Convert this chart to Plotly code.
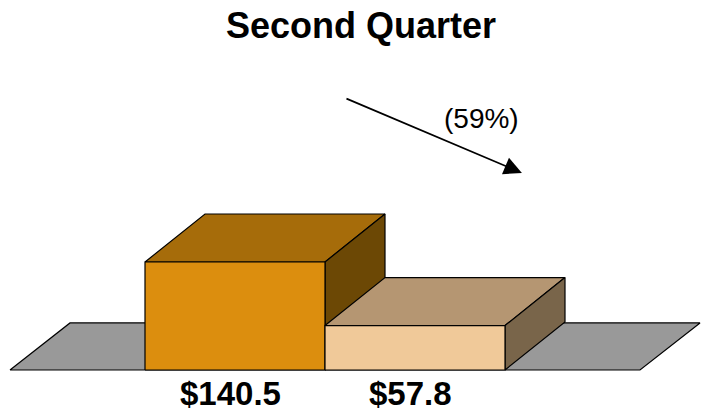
import plotly.graph_objects as go

# Quarterly values (in $ millions)
categories = ["Prior Year", "Current Year"]
values = [140.5, 57.8]
front_colors = ["#DC8E0E", "#F0C999"]
top_colors = ["#A66C0A", "#B59672"]
side_colors = ["#6C4805", "#79654A"]
floor_color = "#999999"

W, H = 702, 413
# pixel scale of the axes
PX_PER_X = 180.0
PX_PER_Y = 108.0 / values[0]
X0_PX, Y0_PX = 145.0, 370.0  # pixel position of x=-0.5, y=0
x_min = -0.5 - X0_PX / PX_PER_X
x_max = x_min + W / PX_PER_X
y_min = -(H - Y0_PX) / PX_PER_Y
y_max = Y0_PX / PX_PER_Y

# oblique depth of the 3D look
DX = 60.0 / PX_PER_X
DY = 48.0 / PX_PER_Y
BAR_W = 1.0

fig = go.Figure()


def face(xs, ys, color):
    fig.add_trace(go.Scatter(
        x=list(xs) + [xs[0]], y=list(ys) + [ys[0]],
        mode="lines", fill="toself", fillcolor=color,
        line=dict(color="black", width=1.2),
        hoverinfo="skip", showlegend=False,
    ))


# floor plane
fx0, fx1 = -1.25, len(values) + 0.25
face([fx0, fx1, fx1 + DX, fx0 + DX], [0, 0, DY * 0.98, DY * 0.98], floor_color)

# bars drawn back-to-front: top, side, front
for i, v in enumerate(values):
    l, r = i - BAR_W / 2, i + BAR_W / 2
    face([l, r, r + DX, l + DX], [v, v, v + DY, v + DY], top_colors[i])
    face([r, r + DX, r + DX, r], [0, DY, v + DY, v], side_colors[i])
    face([l, r, r, l], [0, 0, v, v], front_colors[i])
    fig.add_annotation(
        x=i, y=0, xref="x", yref="y", text=f"${v:.1f}",
        showarrow=False, yanchor="middle", yshift=-23, xshift=-5,
        font=dict(family="Liberation Sans, Arial", size=33, color="black", weight="bold"),
    )

# percentage change arrow
change = (values[1] - values[0]) / values[0] * 100
fig.add_annotation(
    x=1.594, y=256.3, ax=0.611, ay=353.9, xref="x", yref="y", axref="x", ayref="y",
    showarrow=True, arrowhead=2, arrowsize=2.1, arrowwidth=1.7, arrowcolor="black", text="",
)
fig.add_annotation(
    x=1.367, y=327.8, xref="x", yref="y", showarrow=False,
    text=f"({abs(change):.0f}%)" if change < 0 else f"{change:.0f}%",
    font=dict(family="Liberation Sans, Arial", size=28, color="black"),
)

fig.update_layout(
    width=W, height=H,
    margin=dict(l=0, r=0, t=0, b=0),
    paper_bgcolor="white", plot_bgcolor="white",
    title=dict(
        text="<b>Second Quarter</b>", x=361 / W, xanchor="center",
        y=1 - 25 / H, yanchor="middle", yref="container",
        font=dict(family="Liberation Sans, Arial", size=36, color="black"),
    ),
    xaxis=dict(range=[x_min, x_max], visible=False, fixedrange=True),
    yaxis=dict(range=[y_min, y_max], visible=False, fixedrange=True),
    showlegend=False,
)

fig.write_html("out.html", config={"displayModeBar": False})
